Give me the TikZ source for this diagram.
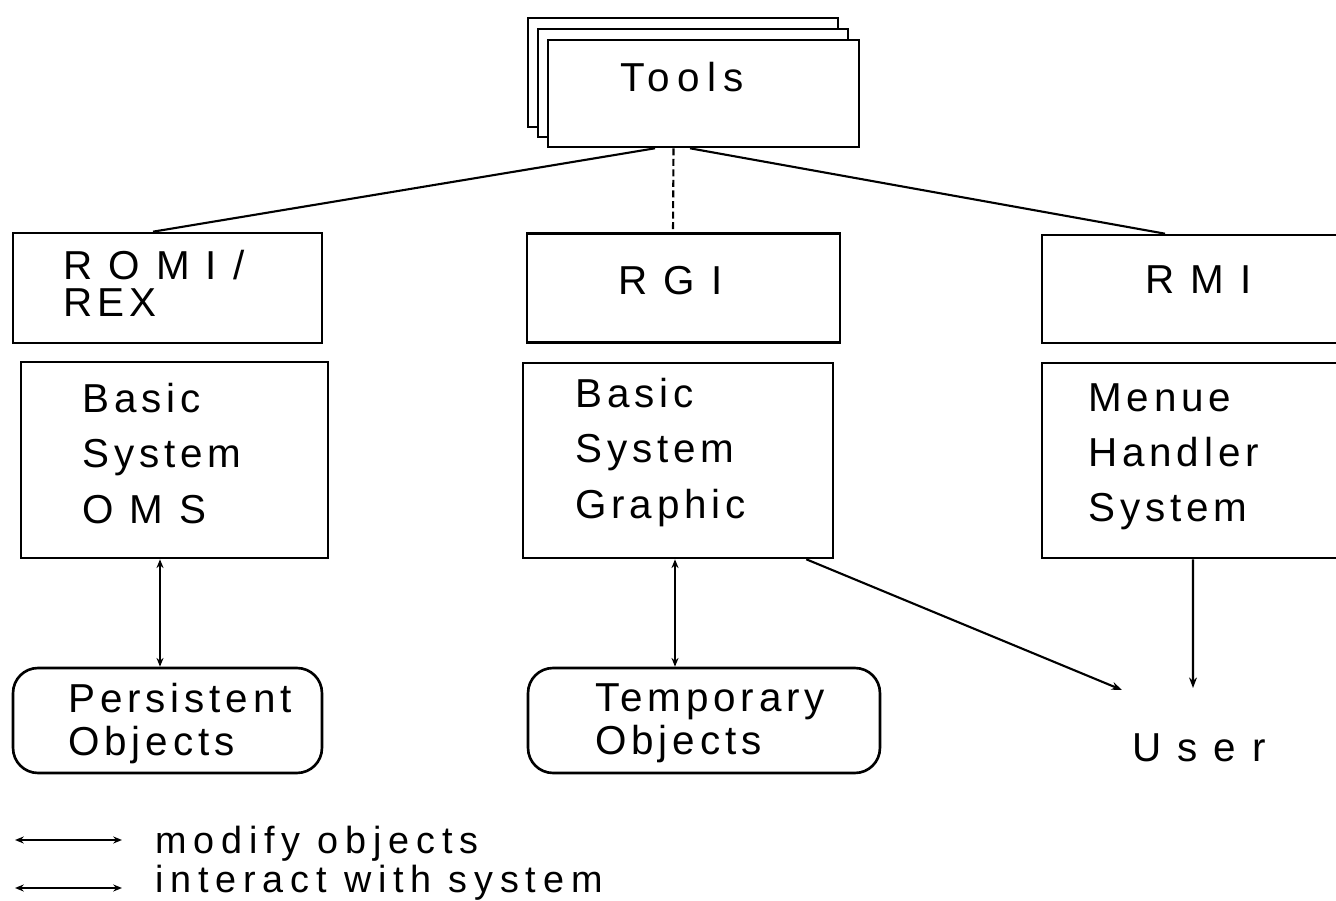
\documentclass[tikz,border=0pt]{standalone}
\usepackage{fontspec}
\setmainfont{Liberation Sans}[LetterSpace=12]
\newfontfamily\widefont{Liberation Sans}[LetterSpace=18]
\usetikzlibrary{arrows.meta}

\tikzset{
    box/.style={draw, line width=1.5pt, fill=white, inner sep=0pt},
    objbox/.style={box, rounded corners=0.5cm},
    txt/.style={inner sep=0pt, anchor=north west, align=left, font=\fontsize{23}{31.5}\selectfont},
    link/.style={line width=1.2pt},
    toarrow/.style={-{Stealth[length=6pt,width=4.5pt]}},
    twoway/.style={{Stealth[length=5pt,width=4pt]}-{Stealth[length=5pt,width=4pt]}}
}

\begin{document}
\begin{tikzpicture}[x=0.02cm, y=-0.02cm]
        \useasboundingbox (0,0) rectangle (1336,901);

        % stack of tool boxes
        \node[box, minimum width=6.2cm, minimum height=2.18cm] (toolsc) at (683,72.5) {};
        \node[box, minimum width=6.2cm, minimum height=2.16cm] (toolsb) at (693,83) {};
        \node[box, minimum width=6.22cm, minimum height=2.14cm] (tools) at (703.5,93.5) {};
        \node[txt, font=\widefont\fontsize{23}{31.5}\selectfont] (toolstxt) at (620,62) {Tools};

        \node[box, minimum width=6.18cm, minimum height=2.2cm] (romi) at (167.5,288) {};
        \node[txt, font=\fontsize{23}{21}\selectfont] (romitxt) at (63,250) {R O M I /\\REX};
        \node[box, minimum width=6.26cm, minimum height=2.18cm] (rgi) at (683.5,288) {};
        \node[txt] (rgitxt) at (618,266) {R G I};
        \node[box, minimum width=6.16cm, minimum height=2.16cm] (rmi) at (1196,289) {};
        \node[txt] (rmitxt) at (1145,265) {R M I};

        \node[box, minimum width=6.14cm, minimum height=3.92cm] (oms) at (174.5,460) {};
        \node[txt] (omstxt) at (82,383) {Basic\\System\\O M S};
        \node[box, minimum width=6.2cm, minimum height=3.9cm] (graph) at (678,460.5) {};
        \node[txt] (graphtxt) at (575,378) {Basic\\System\\Graphic};
        \node[box, minimum width=6.16cm, minimum height=3.9cm] (menue) at (1196,460.5) {};
        \node[txt] (menuetxt) at (1088,383) {Menue\\Handler\\System};

        \node[objbox, minimum width=6.18cm, minimum height=2.1cm] (pers) at (167.5,720.5) {};
        \node[txt, font=\fontsize{23}{24.5}\selectfont] (perstxt) at (68,683) {Persistent\\Objects};
        \node[objbox, minimum width=7.04cm, minimum height=2.1cm] (temp) at (704,720.5) {};
        \node[txt, font=\fontsize{23}{24.5}\selectfont] (temptxt) at (595,683) {Temporary\\Objects};

        \node[txt] (user) at (1132,733) {U s e r};
        \coordinate (ua) at (1122,690);
        \coordinate (ub) at (1193,688);

        \draw[link] ([xshift=-0.97cm]tools.south) -- ([xshift=-0.29cm]romi.north);
        \draw[link, dash pattern=on 4pt off 2pt] ([xshift=-0.6cm]tools.south) -- ([xshift=-0.21cm]rgi.north);
        \draw[link] ([xshift=-0.27cm]tools.south) -- ([xshift=-0.62cm]rmi.north);

        \draw[link, twoway] ([xshift=-0.29cm]oms.south) -- ([xshift=-0.29cm]oms.south |- pers.north);
        \draw[link, twoway] ([xshift=-0.06cm]graph.south) -- ([xshift=-0.06cm]graph.south |- temp.north);
        \draw[link, toarrow] ([xshift=-0.56cm]graph.south east) -- (ua);
        \draw[link, toarrow] ([xshift=-0.06cm]menue.south) -- (ub);

        % legend
        \coordinate (la) at (15,840);
        \coordinate (lb) at (122,840);
        \coordinate (lc) at (15,888);
        \coordinate (ld) at (122,888);
        \draw[link, twoway] (la) -- (lb);
        \draw[link, twoway] (lc) -- (ld);
        \node[inner sep=0pt, anchor=base west, font=\widefont\fontsize{21.5}{25}\selectfont] (modtxt) at (155,854) {modify objects};
        \node[inner sep=0pt, anchor=base west, font=\widefont\fontsize{21.5}{25}\selectfont] (inttxt) at (155,892) {interact with system};
    \end{tikzpicture}
\end{document}
